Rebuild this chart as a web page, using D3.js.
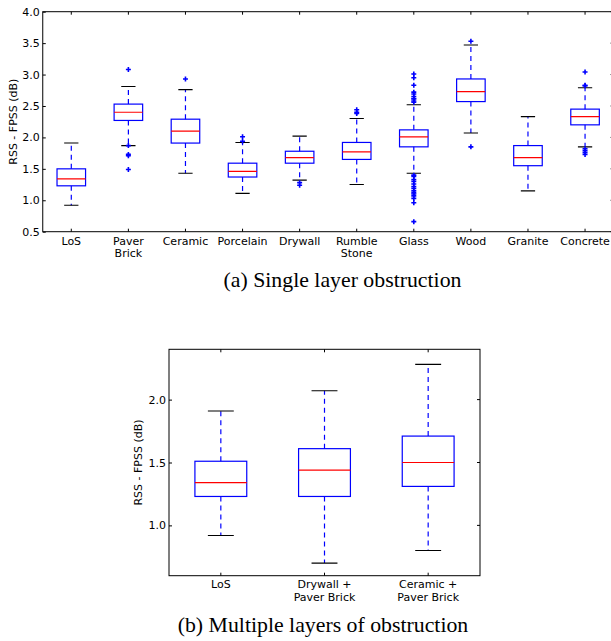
<!DOCTYPE html>
<html>
<head>
<meta charset="utf-8">
<script src="https://cdn.jsdelivr.net/npm/d3@7"></script>
<style>
  html, body { margin: 0; padding: 0; background: #fff; }
  svg { display: block; }
  text { font-family: "DejaVu Sans", sans-serif; fill: #000; }
  .caption { font-family: "Liberation Serif", "Times New Roman", serif; }
</style>
</head>
<body>
<svg id="chart" width="611" height="641"></svg>
<script>
// ---------- Data: (a) Single layer obstruction ----------
const categoriesA = ["LoS", "Paver\nBrick", "Ceramic", "Porcelain", "Drywall", "Rumble\nStone", "Glass", "Wood", "Granite", "Concrete"];
const whiskerLowA  = [0.92, 1.87, 1.43, 1.11, 1.32, 1.25, 1.43, 2.07, 1.15, 1.85];
const q1A          = [1.23, 2.27, 1.91, 1.37, 1.59, 1.65, 1.85, 2.57, 1.55, 2.20];
const medianA      = [1.34, 2.40, 2.10, 1.46, 1.68, 1.77, 2.01, 2.73, 1.68, 2.33];
const q3A          = [1.50, 2.53, 2.29, 1.59, 1.78, 1.92, 2.12, 2.93, 1.87, 2.45];
const whiskerHighA = [1.91, 2.81, 2.76, 1.92, 2.02, 2.30, 2.52, 3.47, 2.33, 2.79];
const fliersA = [
  [],
  [3.08, 1.87, 1.73, 1.71, 1.49],
  [2.93],
  [2.01, 1.94],
  [1.28, 1.24],
  [2.44, 2.40, 2.38],
  [3.01, 2.95, 2.83, 2.72, 2.69, 2.65, 2.62, 2.61, 2.58, 2.56,
   1.40, 1.38, 1.33, 1.30, 1.26, 1.22, 1.19, 1.15, 1.12, 1.10, 1.07, 1.03, 0.96, 0.66],
  [3.53, 1.85],
  [],
  [3.04, 2.83, 2.82, 1.82, 1.79, 1.76, 1.73]
];
const yTicksA = [0.5, 1.0, 1.5, 2.0, 2.5, 3.0, 3.5, 4.0];

// ---------- Data: (b) Multiple layers of obstruction ----------
const categoriesB = ["LoS", "Drywall +\nPaver Brick", "Ceramic +\nPaver Brick"];
const whiskerLowB  = [0.92, 0.70, 0.80];
const q1B          = [1.23, 1.23, 1.31];
const medianB      = [1.34, 1.44, 1.50];
const q3B          = [1.51, 1.61, 1.71];
const whiskerHighB = [1.91, 2.07, 2.28];
const fliersB = [[], [], []];
const yTicksB = [1.0, 1.5, 2.0];

const yLabel = "RSS - FPSS (dB)";
const captionA = "(a) Single layer obstruction";
const captionB = "(b) Multiple layers of obstruction";

const svg = d3.select("#chart");

function drawPanel(cfg) {
  const { left, right, top, bottom, yDomain, cats, lo, q1, med, q3, hi, fl, yTicks,
          labelFont, line1Baseline, lineHeight, yLabelX } = cfg;
  const n = cats.length;
  const x = d3.scaleLinear().domain([0.5, n + 0.5]).range([left, right]);
  const y = d3.scaleLinear().domain(yDomain).range([bottom, top]);
  const g = svg.append("g");
  const tick = 3;

  // y axis (left) with inside ticks
  const yAxis = d3.axisLeft(y).tickValues(yTicks).tickFormat(d3.format(".1f"))
    .tickSizeInner(-tick).tickSizeOuter(0).tickPadding(3);
  const ya = g.append("g").attr("transform", `translate(${left},0)`).call(yAxis);
  ya.select(".domain").remove();
  ya.selectAll("text").attr("font-size", labelFont).attr("font-family", "DejaVu Sans");
  ya.selectAll("line").attr("stroke", "#000");

  // right inside ticks
  g.append("g").selectAll("line").data(yTicks).join("line")
    .attr("x1", right).attr("x2", right - tick)
    .attr("y1", d => y(d)).attr("y2", d => y(d)).attr("stroke", "#000");

  // bottom / top inside ticks
  const idx = d3.range(1, n + 1);
  g.append("g").selectAll("line").data(idx).join("line")
    .attr("x1", d => x(d)).attr("x2", d => x(d))
    .attr("y1", bottom).attr("y2", bottom - tick).attr("stroke", "#000");
  g.append("g").selectAll("line").data(idx).join("line")
    .attr("x1", d => x(d)).attr("x2", d => x(d))
    .attr("y1", top).attr("y2", top + tick).attr("stroke", "#000");

  // x tick labels (multi-line)
  const xl = g.append("g").selectAll("text").data(cats).join("text")
    .attr("text-anchor", "middle").attr("font-size", labelFont)
    .attr("y", line1Baseline);
  xl.each(function (d, i) {
    const t = d3.select(this);
    d.split("\n").forEach((s, k) => {
      t.append("tspan").attr("x", x(i + 1)).attr("y", line1Baseline + k * lineHeight).text(s);
    });
  });

  // y label
  g.append("text")
    .attr("transform", `translate(${yLabelX},${(top + bottom) / 2}) rotate(-90)`)
    .attr("text-anchor", "middle").attr("font-size", 11).text(yLabel);

  // clip for data
  const clipId = "clip" + Math.random().toString(36).slice(2);
  g.append("clipPath").attr("id", clipId).append("rect")
    .attr("x", left).attr("y", top).attr("width", right - left).attr("height", bottom - top);
  const d = g.append("g").attr("clip-path", `url(#${clipId})`);

  const boxW = x(1.25) - x(1);
  const capW = x(1.125) - x(1);
  const blue = "#0000ff";

  cats.forEach((c, i) => {
    const cx = x(i + 1);
    // whiskers (dashed)
    d.append("line").attr("x1", cx).attr("x2", cx).attr("y1", y(q3[i])).attr("y2", y(hi[i]))
      .attr("stroke", blue).attr("stroke-width", 1.2).attr("stroke-dasharray", "5,4");
    d.append("line").attr("x1", cx).attr("x2", cx).attr("y1", y(q1[i])).attr("y2", y(lo[i]))
      .attr("stroke", blue).attr("stroke-width", 1.2).attr("stroke-dasharray", "5,4");
    // caps
    [lo[i], hi[i]].forEach(v => {
      d.append("line").attr("x1", cx - capW).attr("x2", cx + capW).attr("y1", y(v)).attr("y2", y(v))
        .attr("stroke", "#000").attr("stroke-width", 1.1);
    });
    // box
    d.append("rect").attr("x", cx - boxW).attr("width", 2 * boxW)
      .attr("y", y(q3[i])).attr("height", y(q1[i]) - y(q3[i]))
      .attr("fill", "none").attr("stroke", blue).attr("stroke-width", 1.2);
    // median
    d.append("line").attr("x1", cx - boxW).attr("x2", cx + boxW).attr("y1", y(med[i])).attr("y2", y(med[i]))
      .attr("stroke", "#ff0000").attr("stroke-width", 1.2);
    // fliers
    fl[i].forEach(v => {
      const py = y(v);
      d.append("path").attr("d", `M${cx - 2.5},${py}H${cx + 2.5}M${cx},${py - 2.5}V${py + 2.5}`)
        .attr("stroke", blue).attr("stroke-width", 1.6).attr("fill", "none");
    });
  });

  // frame
  g.append("rect").attr("x", left).attr("y", top).attr("width", right - left).attr("height", bottom - top)
    .attr("fill", "none").attr("stroke", "#000").attr("stroke-width", 1);
}

drawPanel({
  left: 42.75, right: 613.6, top: 11.7, bottom: 231.7, yDomain: [0.5, 4.0],
  cats: categoriesA, lo: whiskerLowA, q1: q1A, med: medianA, q3: q3A, hi: whiskerHighA, fl: fliersA,
  yTicks: yTicksA, labelFont: 11, line1Baseline: 245, lineHeight: 12, yLabelX: 17
});

drawPanel({
  left: 169, right: 480, top: 349.3, bottom: 575.7, yDomain: [0.6, 2.4],
  cats: categoriesB, lo: whiskerLowB, q1: q1B, med: medianB, q3: q3B, hi: whiskerHighB, fl: fliersB,
  yTicks: yTicksB, labelFont: 11, line1Baseline: 588, lineHeight: 13, yLabelX: 142
});

// captions
svg.append("text").attr("class", "caption").attr("x", 342.5).attr("y", 286.5)
  .attr("text-anchor", "middle").attr("font-size", 21.8).text(captionA);
svg.append("text").attr("class", "caption").attr("x", 323).attr("y", 631.5)
  .attr("text-anchor", "middle").attr("font-size", 21.8).text(captionB);
</script>
</body>
</html>
